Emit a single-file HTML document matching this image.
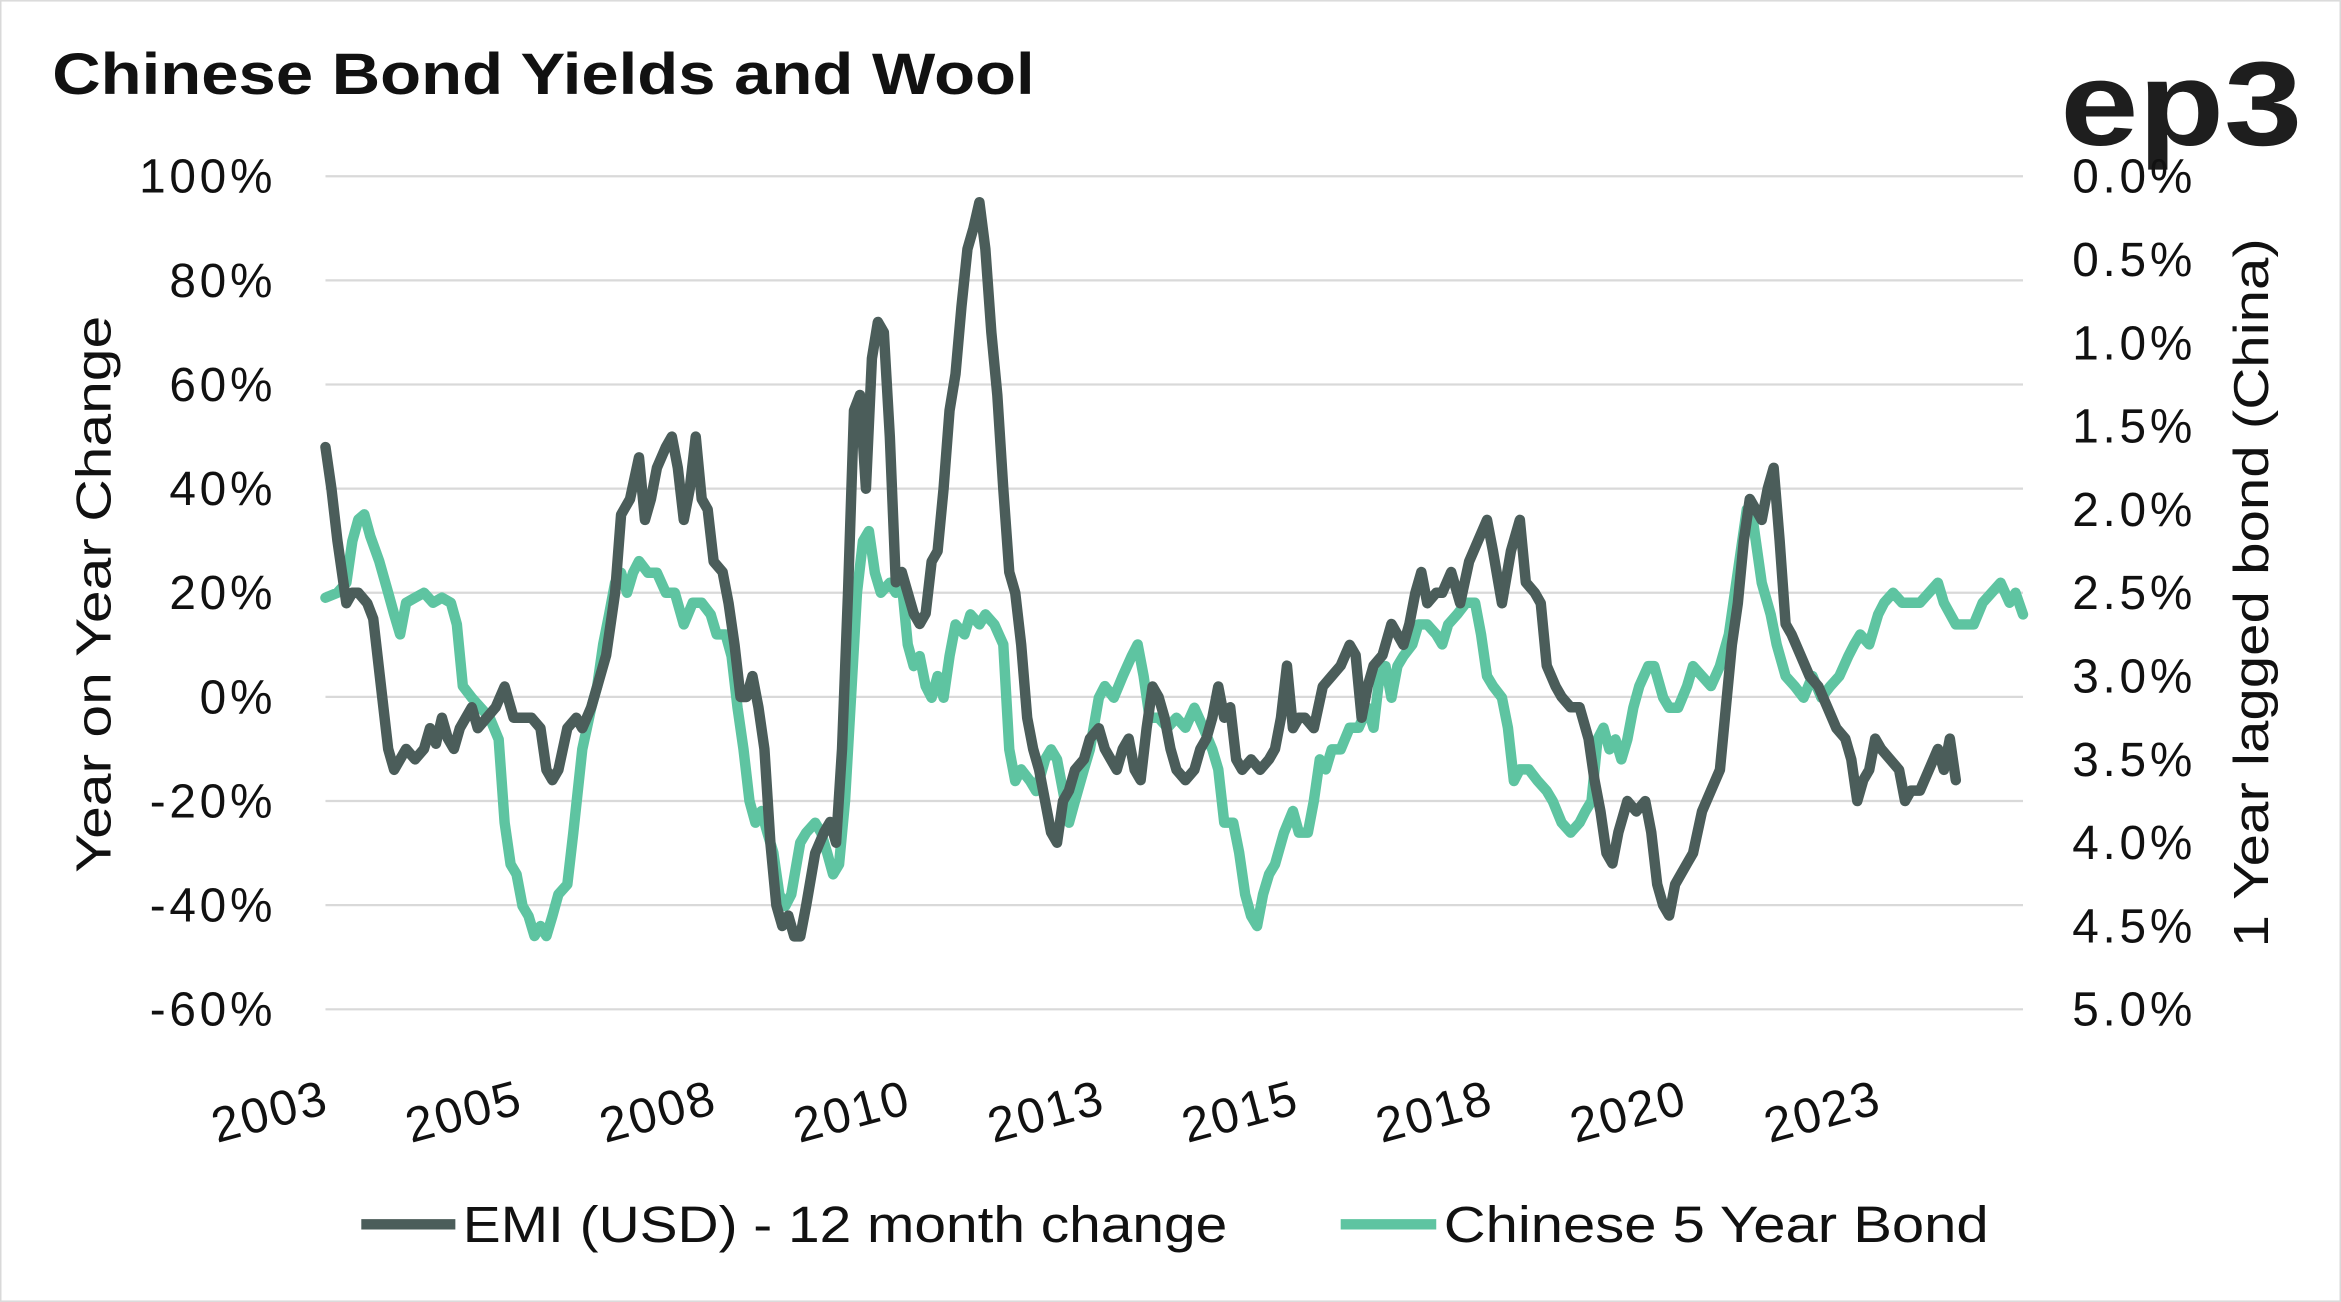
<!DOCTYPE html>
<html><head><meta charset="utf-8"><style>
html,body{margin:0;padding:0;background:#fff}
svg{display:block}
text{font-family:"Liberation Sans",sans-serif}
</style></head><body>
<svg id="chart" width="2341" height="1302" viewBox="0 0 1568 872" xmlns="http://www.w3.org/2000/svg">
<rect x="0.5" y="0.5" width="1567" height="871" fill="#fff" stroke="#d9d9d9"/>
<text x="35" y="63" font-size="39" font-weight="bold" fill="#111" textLength="658" lengthAdjust="spacingAndGlyphs">Chinese Bond Yields and Wool</text>
<text x="1380" y="97" font-size="80" font-weight="bold" fill="#1e1e1e" textLength="162" lengthAdjust="spacingAndGlyphs">ep3</text>
<g id="grid"></g>
<g id="yl"></g>
<g id="yr"></g>
<g id="xl"></g>
<text transform="translate(74,398) rotate(-90)" text-anchor="middle" font-size="33" fill="#111" textLength="373" lengthAdjust="spacingAndGlyphs">Year on Year Change</text>
<text transform="translate(1519,397) rotate(-90)" text-anchor="middle" font-size="33" fill="#111" textLength="475" lengthAdjust="spacingAndGlyphs">1 Year lagged bond (China)</text>
<g id="series"></g>
<g>
<line x1="242" y1="820" x2="305" y2="820" stroke="#4b5d5a" stroke-width="7"/>
<text x="310" y="832" font-size="34" fill="#111" textLength="512" lengthAdjust="spacingAndGlyphs">EMI (USD) - 12 month change</text>
<line x1="898" y1="820" x2="962" y2="820" stroke="#5ec4a1" stroke-width="7"/>
<text x="967" y="832" font-size="34" fill="#111" textLength="365" lengthAdjust="spacingAndGlyphs">Chinese 5 Year Bond</text>
</g>
</svg>
<script>
// weeks since Jan 2003
const emiWeeks=[0,4,8,14,18,22,28,32,38,42,46,50,54,60,66,70,74,78,82,86,90,94,98,102,108,114,120,126,132,138,144,148,152,156,162,168,172,178,182,188,194,198,204,210,214,218,222,228,232,236,240,244,248,252,256,260,266,270,274,278,282,286,290,294,298,302,306,310,314,318,322,328,334,338,342,346,350,354,358,362,366,370,374,378,382,386,390,394,398,402,406,410,414,418,422,426,430,434,438,442,446,450,454,458,462,466,470,474,478,482,486,490,494,498,502,508,512,518,522,526,530,534,538,542,546,550,554,558,562,566,570,576,582,586,590,594,598,602,606,610,614,620,626,632,636,640,644,648,652,656,662,668,674,680,686,690,694,698,702,708,714,718,722,726,730,734,738,744,748,754,760,766,772,778,782,788,794,800,804,810,814,818,824,828,834,840,846,850,854,858,862,866,872,878,884,888,892,896,900,904,908,912,916,922,928,934,938,942,946,950,954,958,962,966,970,974,978,982,988,994,1000,1006,1012,1018,1022,1026,1030,1034,1038,1042,1048,1054,1058,1062,1068,1074,1080,1084,1088,1092];
const emiValues=[48,40,30,18,20,20,18,15,0,-10,-14,-12,-10,-12,-10,-6,-9,-4,-8,-10,-6,-4,-2,-6,-4,-2,2,-4,-4,-4,-6,-14,-16,-14,-6,-4,-6,-2,2,8,20,35,38,46,34,38,44,48,50,44,34,40,50,38,36,26,24,18,10,0,0,4,-2,-10,-28,-40,-44,-42,-46,-46,-40,-30,-26,-24,-28,-10,20,55,58,40,65,72,70,50,22,24,20,16,14,16,26,28,40,55,62,75,86,90,95,86,70,58,40,24,20,10,-4,-10,-14,-20,-26,-28,-20,-18,-14,-12,-8,-6,-10,-12,-14,-10,-8,-14,-16,-6,2,0,-4,-10,-14,-16,-14,-10,-8,-4,2,-4,-2,-12,-14,-12,-14,-12,-10,-4,6,-6,-4,-4,-6,2,4,6,10,8,-4,2,6,8,14,12,10,14,20,24,18,20,20,24,18,26,30,34,28,18,28,34,22,20,18,6,2,0,-2,-2,-8,-16,-22,-30,-32,-26,-20,-22,-20,-26,-36,-40,-42,-36,-34,-32,-30,-22,-18,-14,-2,10,18,30,38,36,34,40,44,30,14,12,8,4,2,-2,-6,-8,-12,-20,-16,-14,-8,-10,-12,-14,-20,-18,-18,-14,-10,-14,-8,-16];
const bondWeeks=[0,8,14,18,22,26,30,36,42,46,50,54,60,66,72,78,84,88,92,98,104,110,116,120,124,128,132,136,140,144,148,152,156,162,166,172,178,182,186,190,194,198,202,206,210,216,222,228,234,240,246,252,258,262,268,272,276,280,284,288,292,296,300,304,308,312,318,322,328,332,336,340,344,348,352,356,360,364,368,372,378,382,386,390,394,398,402,406,410,414,418,422,428,432,438,442,448,454,458,462,466,472,476,482,486,490,494,498,502,508,512,518,522,528,534,540,544,548,552,558,564,570,576,582,588,594,598,602,608,612,616,620,624,628,632,636,642,648,652,658,662,666,670,674,680,686,692,698,702,706,710,714,718,722,728,732,738,744,748,752,758,764,770,774,778,782,788,792,796,800,806,812,818,822,828,834,840,844,848,852,856,860,864,868,872,876,880,886,890,896,900,906,912,916,922,928,934,940,944,948,952,956,962,968,972,978,984,990,996,1002,1008,1014,1020,1024,1028,1034,1040,1044,1050,1056,1062,1068,1074,1080,1084,1092,1098,1104,1110,1116,1122,1128,1132,1137];
const bondValues=[2.53,2.50,2.44,2.19,2.06,2.03,2.16,2.31,2.50,2.63,2.75,2.56,2.53,2.50,2.56,2.53,2.56,2.69,3.06,3.13,3.19,3.25,3.38,3.88,4.13,4.19,4.38,4.44,4.56,4.50,4.56,4.44,4.31,4.25,3.94,3.44,3.19,3.06,2.81,2.63,2.44,2.38,2.50,2.38,2.31,2.38,2.38,2.50,2.50,2.69,2.56,2.56,2.63,2.75,2.75,2.88,3.19,3.44,3.75,3.88,3.81,3.94,4.06,4.31,4.38,4.31,4.00,3.94,3.88,3.94,4.06,4.19,4.13,3.75,3.13,2.50,2.19,2.13,2.38,2.50,2.44,2.50,2.44,2.81,2.94,2.88,3.06,3.13,3.00,3.13,2.88,2.69,2.75,2.63,2.69,2.63,2.69,2.81,3.44,3.63,3.56,3.63,3.69,3.50,3.44,3.50,3.69,3.88,3.75,3.56,3.44,3.13,3.06,3.13,3.00,2.88,2.81,3.00,3.25,3.25,3.31,3.25,3.31,3.19,3.31,3.44,3.56,3.88,3.88,4.06,4.31,4.44,4.50,4.31,4.19,4.13,3.94,3.81,3.94,3.94,3.75,3.50,3.56,3.44,3.44,3.31,3.31,3.19,3.31,3.00,2.94,3.13,2.94,2.88,2.81,2.69,2.69,2.75,2.81,2.69,2.63,2.56,2.56,2.75,3.00,3.06,3.13,3.31,3.63,3.56,3.56,3.63,3.69,3.75,3.88,3.94,3.88,3.81,3.75,3.38,3.31,3.44,3.38,3.50,3.38,3.19,3.06,2.94,2.94,3.13,3.19,3.19,3.06,2.94,3.00,3.06,2.94,2.75,2.50,2.25,2.00,2.06,2.44,2.63,2.81,3.00,3.06,3.13,3.00,3.13,3.06,3.00,2.88,2.81,2.75,2.81,2.63,2.56,2.50,2.56,2.56,2.56,2.50,2.44,2.56,2.69,2.69,2.69,2.56,2.50,2.44,2.56,2.50,2.63,2.56];
const leftTicks=[100,80,60,40,20,0,-20,-40,-60];
const rightTicks=["0.0%","0.5%","1.0%","1.5%","2.0%","2.5%","3.0%","3.5%","4.0%","4.5%","5.0%"];
const xTickLabels=["2003","2005","2008","2010","2013","2015","2018","2020","2023"];
const xTickWeeks=[0,130,260,390,520,650,780,910,1040];

const NS="http://www.w3.org/2000/svg";
const X0=218,X1=1355,YT=118,YB=676;
const xs=w=>X0+w*1;
const yl=v=>YT+(100-v)/160*(YB-YT);
const yr=v=>YT+v/5*(YB-YT);
function mk(tag,attrs,parent){const e=document.createElementNS(NS,tag);for(const k in attrs)e.setAttribute(k,attrs[k]);parent.appendChild(e);return e;}
const grid=document.getElementById('grid'),gl=document.getElementById('yl'),gr=document.getElementById('yr'),gx=document.getElementById('xl'),gs=document.getElementById('series');
leftTicks.forEach(v=>{
  const l=mk('line',{x1:X0,x2:X1,y1:yl(v),y2:yl(v),stroke:'#d9d9d9','stroke-width':1.5},grid);
  
  
  const t=mk('text',{x:185,y:yl(v)+11,'text-anchor':'end','font-size':32,'letter-spacing':2.5,fill:'#111'},gl);
  t.textContent=v+'%';
  
  
});
rightTicks.forEach((s,i)=>{
  const t=mk('text',{x:1388,y:yr(i*0.5)+11,'font-size':32,'letter-spacing':2.5,fill:'#111'},gr);
  t.textContent=s;
  
  
});
xTickLabels.forEach((s,i)=>{
  const t=mk('text',{transform:`translate(${xs(xTickWeeks[i])+4},${745}) rotate(-15)`,'text-anchor':'end','font-size':33,'letter-spacing':1.5,fill:'#111'},gx);
  t.textContent=s;
  
  
});
function path(ws,vs,yf,color,name){
  const d=ws.map((w,i)=>(i?'L':'M')+xs(w).toFixed(1)+' '+yf(vs[i]).toFixed(1)).join(' ');
  const p=mk('path',{d:d,fill:'none',stroke:color,'stroke-width':7,'stroke-linejoin':'round','stroke-linecap':'round'},gs);
  
  
}
path(bondWeeks,bondValues,yr,'#5ec4a1','bond-line');
path(emiWeeks,emiValues,yl,'#4b5d5a','emi-line');
</script>
</body></html>
